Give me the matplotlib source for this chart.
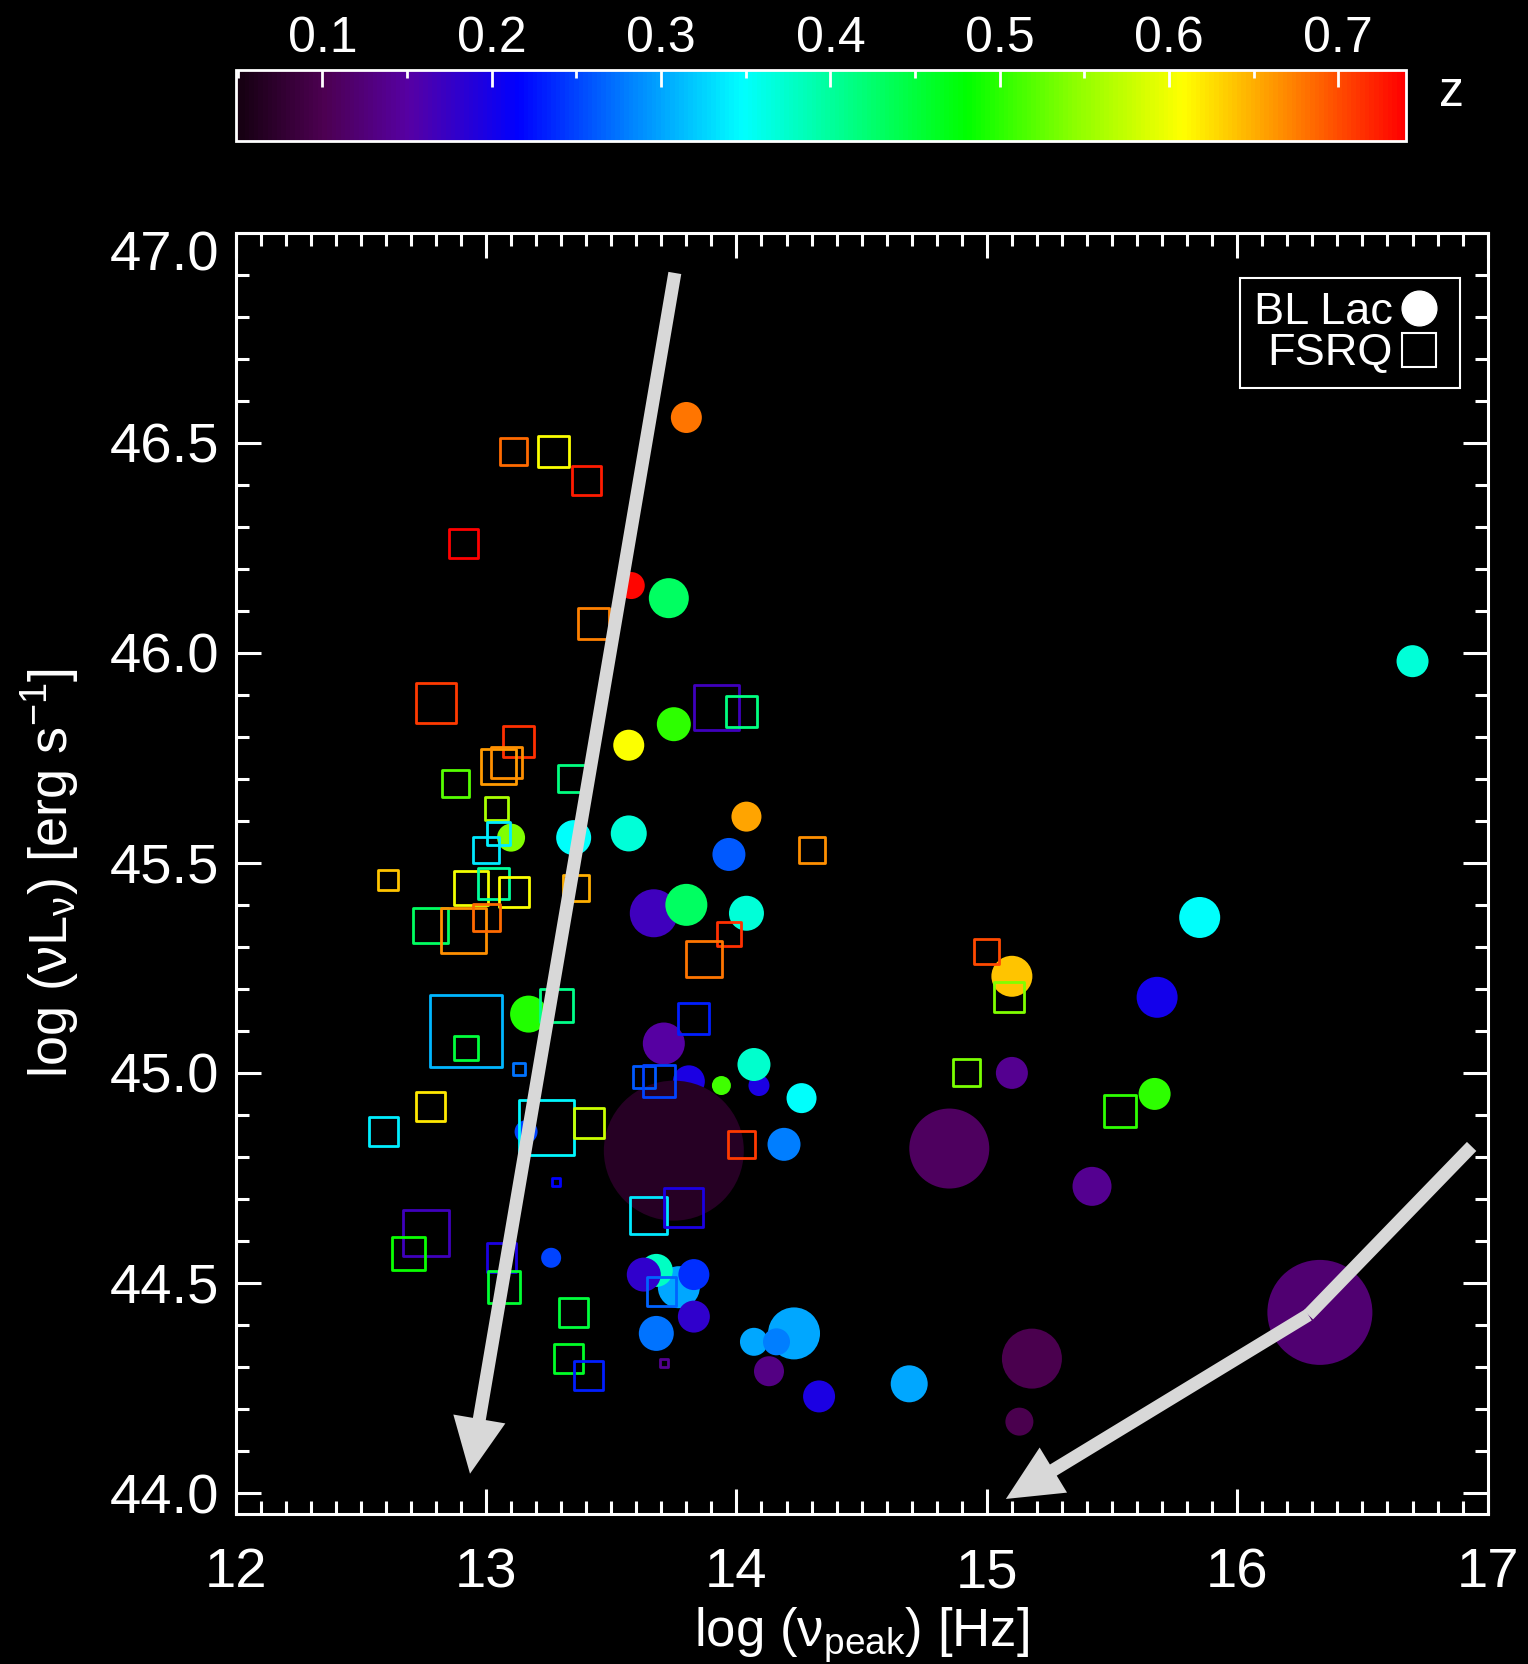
import numpy as np
import matplotlib
matplotlib.use('Agg')
import matplotlib.pyplot as plt
from matplotlib.colors import LinearSegmentedColormap, Normalize
from matplotlib.cm import ScalarMappable
from matplotlib.lines import Line2D
from matplotlib.ticker import MultipleLocator, FormatStrFormatter, FuncFormatter

plt.rcParams['font.family'] = ['Liberation Sans', 'DejaVu Sans']
plt.rcParams['mathtext.fontset'] = 'custom'
plt.rcParams['mathtext.rm'] = 'Liberation Sans'
plt.rcParams['mathtext.it'] = 'Liberation Sans:italic'
plt.rcParams['mathtext.bf'] = 'Liberation Sans:bold'

# BL Lacs: log peak frequency, log peak luminosity, redshift, symbol size
bl_x = [13.80, 13.58, 13.73, 13.57, 13.75, 13.10, 13.35, 13.57, 14.04, 13.97,
        13.67, 13.80, 14.04, 13.17, 13.71, 13.81, 13.94, 14.09, 14.07, 14.26,
        14.19, 13.75, 13.16, 13.26, 13.77, 13.68, 13.63, 13.83, 13.83, 13.68,
        14.23, 14.07, 14.16, 14.13, 14.33, 14.85, 15.10, 15.67, 15.42, 14.69,
        15.18, 15.13, 16.70, 15.85, 15.10, 15.68, 16.33]
bl_y = [46.56, 46.16, 46.13, 45.78, 45.83, 45.56, 45.56, 45.57, 45.61, 45.52,
        45.38, 45.40, 45.38, 45.14, 45.07, 44.98, 44.97, 44.97, 45.02, 44.94,
        44.83, 44.815, 44.86, 44.56, 44.49, 44.53, 44.52, 44.52, 44.42, 44.38,
        44.38, 44.36, 44.36, 44.29, 44.23, 44.82, 45.00, 44.95, 44.73, 44.26,
        44.32, 44.17, 45.98, 45.37, 45.23, 45.18, 44.43]
bl_z = [0.68, 0.735, 0.43, 0.605, 0.50, 0.54, 0.35, 0.37, 0.655, 0.26,
        0.17, 0.43, 0.37, 0.495, 0.15, 0.195, 0.51, 0.195, 0.375, 0.35,
        0.28, 0.065, 0.25, 0.25, 0.30, 0.38, 0.18, 0.24, 0.18, 0.275,
        0.30, 0.30, 0.28, 0.13, 0.195, 0.11, 0.14, 0.50, 0.14, 0.30,
        0.10, 0.10, 0.37, 0.35, 0.64, 0.20, 0.12]
bl_size = [3.1, 2.7, 4.0, 3.1, 3.4, 2.8, 3.5, 3.6, 3.0, 3.3,
           4.8, 4.2, 3.5, 3.7, 4.2, 3.2, 1.9, 2.1, 3.3, 3.0,
           3.3, 14.0, 2.3, 2.0, 4.2, 3.3, 3.4, 3.1, 3.2, 3.5,
           5.2, 2.8, 2.7, 3.0, 3.2, 8.0, 3.2, 3.2, 3.9, 3.7,
           6.0, 2.8, 3.2, 4.1, 4.1, 4.1, 10.5]

# FSRQs
fsrq_x = [13.11, 13.27, 13.40, 12.91, 13.43, 12.80, 13.13, 13.92, 14.02, 13.05,
          13.08, 12.88, 13.34, 13.04, 13.05, 13.00, 12.61, 12.94, 13.03, 13.11,
          12.78, 12.91, 13.00, 12.92, 12.92, 13.13, 12.78, 12.59, 13.28, 13.36,
          13.97, 13.87, 14.30, 13.83, 13.63, 13.69, 13.24, 13.41, 14.02, 13.28,
          13.65, 13.79, 12.76, 12.69, 13.06, 13.07, 13.35, 13.33, 13.41, 13.70,
          13.71, 15.00, 15.09, 14.92, 15.53]
fsrq_y = [46.48, 46.48, 46.41, 46.26, 46.07, 45.88, 45.79, 45.87, 45.86, 45.73,
          45.74, 45.69, 45.70, 45.63, 45.57, 45.53, 45.46, 45.44, 45.45, 45.43,
          45.35, 45.34, 45.37, 45.10, 45.06, 45.01, 44.92, 44.86, 45.16, 45.44,
          45.33, 45.27, 45.53, 45.13, 44.99, 44.98, 44.87, 44.88, 44.83, 44.74,
          44.66, 44.68, 44.62, 44.57, 44.56, 44.49, 44.43, 44.32, 44.28, 44.48,
          44.31, 45.29, 45.18, 45.00, 44.91]
fsrq_z = [0.685, 0.605, 0.725, 0.74, 0.675, 0.71, 0.715, 0.17, 0.415, 0.66,
          0.665, 0.52, 0.415, 0.56, 0.34, 0.335, 0.64, 0.60, 0.40, 0.605,
          0.43, 0.665, 0.685, 0.31, 0.45, 0.275, 0.62, 0.34, 0.41, 0.65,
          0.715, 0.68, 0.665, 0.23, 0.26, 0.25, 0.345, 0.58, 0.71, 0.215,
          0.335, 0.195, 0.17, 0.485, 0.195, 0.455, 0.45, 0.46, 0.23, 0.265,
          0.14, 0.70, 0.54, 0.535, 0.50]
fsrq_size = [3.0, 3.4, 3.2, 3.2, 3.4, 4.3, 3.4, 4.8, 3.4, 3.8,
             3.4, 3.0, 3.0, 2.6, 2.6, 2.9, 2.3, 3.7, 3.4, 3.3,
             3.8, 4.8, 3.0, 7.5, 2.7, 1.5, 3.2, 3.2, 3.6, 2.9,
             2.7, 3.9, 2.9, 3.4, 2.5, 3.5, 5.8, 3.3, 3.0, 1.1,
             4.0, 4.2, 4.9, 3.6, 3.2, 3.5, 3.2, 3.2, 3.2, 3.2,
             1.1, 2.8, 3.3, 3.0, 3.5]

# guide arrows (data coordinates)
arrow1 = [(13.754, 46.904), (12.936, 44.046)]
arrow2 = [(16.936, 44.825), (16.284, 44.424), (15.076, 43.986)]

z_min, z_max = 0.0487, 0.74

DPI = 100
PX = 72.0 / DPI  # points per pixel

# rainbow table, black -> purple -> blue -> cyan -> green -> yellow -> red
anchors = [(0.0487, (0.08, 0.0, 0.06)),
           (0.100, (0.30, 0.0, 0.32)),
           (0.150, (0.34, 0.0, 0.64)),
           (0.215, (0.00, 0.0, 1.00)),
           (0.280, (0.00, 0.5, 1.00)),
           (0.348, (0.00, 1.0, 1.00)),
           (0.415, (0.00, 1.0, 0.50)),
           (0.481, (0.00, 1.0, 0.00)),
           (0.545, (0.55, 1.0, 0.00)),
           (0.609, (1.00, 1.0, 0.00)),
           (0.675, (1.00, 0.5, 0.00)),
           (0.740, (1.00, 0.0, 0.00))]
cmap = LinearSegmentedColormap.from_list(
    'idl_rainbow', [((z - z_min) / (z_max - z_min), c) for z, c in anchors])
norm = Normalize(vmin=z_min, vmax=z_max)

fig = plt.figure(figsize=(15.28, 16.64), dpi=DPI, facecolor='black')
ax = fig.add_axes([0.1542, 0.0901, 0.8194, 0.7701])
ax.set_facecolor('black')

ax.scatter(bl_x, bl_y, s=(np.array(bl_size) * 10 * PX) ** 2, c=bl_z,
           cmap=cmap, norm=norm, marker='o', edgecolors='none', zorder=2)
ax.scatter(fsrq_x, fsrq_y, s=((np.array(fsrq_size) * 10 - 3) * PX) ** 2,
           marker='s', facecolors='none', edgecolors=cmap(norm(fsrq_z)),
           linewidths=2.0, zorder=3)

grey = '#d8d8d8'
head = 'simple,head_length=1.0,head_width=0.95,tail_width=0.235'
ax.annotate('', xy=arrow1[1], xytext=arrow1[0],
            arrowprops=dict(arrowstyle=head, mutation_scale=40, fc=grey,
                            ec='none', shrinkA=0, shrinkB=0), zorder=5)
ax.plot([arrow2[0][0], arrow2[1][0]], [arrow2[0][1], arrow2[1][1]],
        color=grey, lw=9.4, solid_capstyle='butt', zorder=5)
ax.annotate('', xy=arrow2[2], xytext=arrow2[1],
            arrowprops=dict(arrowstyle=head, mutation_scale=40, fc=grey,
                            ec='none', shrinkA=0, shrinkB=0), zorder=5)

ax.set_xlim(12, 17)
ax.set_ylim(43.95, 47.0)
ax.xaxis.set_major_locator(MultipleLocator(1))
ax.xaxis.set_minor_locator(MultipleLocator(0.1))
ax.yaxis.set_major_locator(MultipleLocator(0.5))
ax.yaxis.set_minor_locator(MultipleLocator(0.1))
# the top label sits a little below its tick, drawn separately
ax.yaxis.set_major_formatter(
    FuncFormatter(lambda v, pos: '' if v > 46.99 else '%.1f' % v))
ax.tick_params(which='both', direction='in', top=True, right=True,
               colors='white', width=2.2, labelsize=40.5)
ax.tick_params(which='major', length=18)
ax.tick_params(which='minor', length=9.4)
ax.tick_params(axis='x', pad=24)
ax.tick_params(axis='y', pad=12)
ax.annotate('47.0', xy=(0, 47.0), xycoords=('axes fraction', 'data'),
            xytext=(-12, -13), textcoords='offset points', ha='right',
            va='center_baseline', color='white', fontsize=40.5)
for sp in ax.spines.values():
    sp.set_color('white')
    sp.set_linewidth(2.2)

ax.set_xlabel('log (ν$_{\\mathrm{peak}}$) [Hz]', color='white', fontsize=38,
              labelpad=4)
ax.set_ylabel('log (νL$_{\\mathrm{ν}}$) [erg s$^{\\mathrm{-1}}$]',
              color='white', fontsize=39, labelpad=20)

handles = [Line2D([], [], ls='none', marker='o', ms=25, mfc='white', mec='white'),
           Line2D([], [], ls='none', marker='s', ms=25, mfc='none', mec='white',
                  mew=1.5)]
leg = ax.legend(handles, ['BL Lac', 'FSRQ'], loc='upper right',
                bbox_to_anchor=(0.978, 0.9646), markerfirst=False,
                fancybox=False, edgecolor='white', facecolor='black',
                framealpha=1, fontsize=32.5, handlelength=1.2,
                handletextpad=0.0, borderpad=0.3, labelspacing=0.02,
                borderaxespad=0)
leg.get_frame().set_linewidth(1.5)
for t in leg.get_texts():
    t.set_color('white')

cax = fig.add_axes([0.1542, 0.9153, 0.766, 0.0427])
cb = fig.colorbar(ScalarMappable(norm=norm, cmap=cmap), cax=cax,
                  orientation='horizontal')
cb.set_ticks([0.1, 0.2, 0.3, 0.4, 0.5, 0.6, 0.7])
cax.xaxis.set_ticks_position('top')
cax.xaxis.set_label_position('top')
cax.xaxis.set_minor_locator(MultipleLocator(0.05))
cax.xaxis.set_major_formatter(FormatStrFormatter('%.1f'))
cax.tick_params(which='both', direction='in', colors='white', width=2,
                labelsize=36, pad=6)
cax.tick_params(which='major', length=12)
cax.tick_params(which='minor', length=6)
cb.outline.set_edgecolor('white')
cb.outline.set_linewidth(2)
fig.text(1451.6 / 1528, 1 - 93.4 / 1664, 'z', ha='center', va='center',
         color='white', fontsize=36)

fig.savefig('out.png', dpi=DPI, facecolor='black')
